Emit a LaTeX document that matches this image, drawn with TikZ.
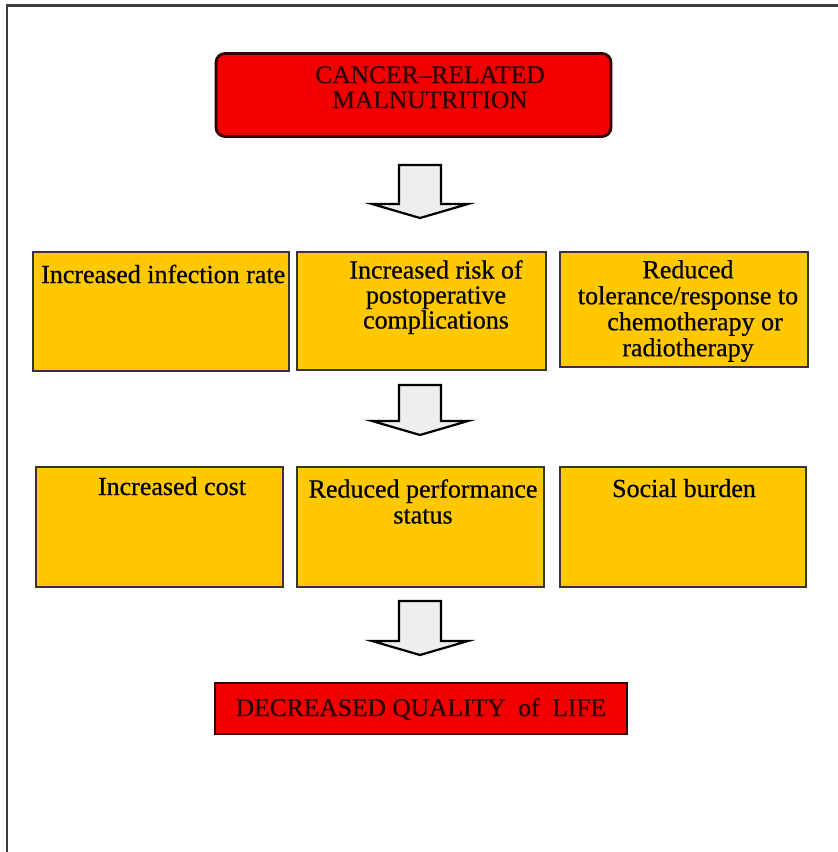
\documentclass[tikz,border=0pt]{standalone}
\usepackage{fontspec}
\setmainfont{Liberation Serif}[FakeBold=0.6]
\definecolor{boxyellow}{RGB}{255,200,0}
\definecolor{boxred}{RGB}{242,0,0}
\definecolor{redtext}{RGB}{45,0,0}
\definecolor{arrowfill}{RGB}{238,238,238}
\definecolor{framegray}{RGB}{60,60,60}
\newcommand{\blockarr}[3]{%
  \draw[barrow] (#1-21,#2) -- (#1+21,#2) -- (#1+21,#3-14) -- (#1+48,#3-14)
    -- (#1,#3) -- (#1-48,#3-14) -- (#1-21,#3-14) -- cycle;}
\begin{document}
\begin{tikzpicture}[x=1pt,y=-1pt,
  ybox/.style={draw=black!90!yellow, line width=2.6pt, fill=boxyellow, inner sep=0pt},
  rbox/.style={draw=black!80!red, line width=2.8pt, fill=boxred, inner sep=0pt},
  txt/.style={font=\fontsize{26}{26}\selectfont, inner sep=0pt, text=black},
  rtxt/.style={font=\fontsize{25.5}{25}\selectfont, inner sep=0pt, text=redtext},
  barrow/.style={draw=black, line width=2.2pt, fill=arrowfill, line join=miter}]
\useasboundingbox (0,0) rectangle (838,852);
% outer frame
\draw[line width=2.5pt, framegray] (7,852) -- (7,5.5) -- (838,5.5);
% top box
\node[rbox, rounded corners=9pt, minimum width=395pt, minimum height=83pt] (top) at (413.5,95) {};
\node[rtxt, align=center, anchor=north] (toptxt) at (430,66) {CANCER--RELATED\\MALNUTRITION};
% arrow 1
\blockarr{420}{165}{218}
% row 1
\node[ybox, minimum width=256pt, minimum height=119pt] (a1) at (161,311.5) {};
\node[ybox, minimum width=249pt, minimum height=118pt] (a2) at (421.5,311) {};
\node[ybox, minimum width=248pt, minimum height=115pt] (a3) at (684,309.5) {};
\node[txt, anchor=base west] (a1t) at (41,283) {Increased infection rate};
\node[txt, align=center, anchor=north, font=\fontsize{26}{25}\selectfont] (a2t) at (436,260) {Increased risk of\\postoperative\\complications};
\node[txt, align=center, anchor=north] (a3t) at (688,260) {Reduced\\tolerance/response to\\\hspace*{14pt}chemotherapy or\\radiotherapy};
% arrow 2
\blockarr{420}{385}{435}
% row 2
\node[ybox, minimum width=247pt, minimum height=120pt] (b1) at (159.5,527) {};
\node[ybox, minimum width=247pt, minimum height=120pt] (b2) at (420.5,527) {};
\node[ybox, minimum width=246pt, minimum height=120pt] (b3) at (683,527) {};
\node[txt, anchor=base] (b1t) at (172,495) {Increased cost};
\node[txt, align=center, anchor=north] (b2t) at (423,479) {Reduced performance\\status};
\node[txt, anchor=base] (b3t) at (684,497) {Social burden};
% arrow 3
\blockarr{420}{601}{655}
% bottom box
\node[rbox, minimum width=412pt, minimum height=51pt] (bot) at (421,708.5) {};
\node[rtxt, anchor=base] (bott) at (421,716) {DECREASED QUALITY\ \ of\ \ LIFE};
\end{tikzpicture}
\end{document}
